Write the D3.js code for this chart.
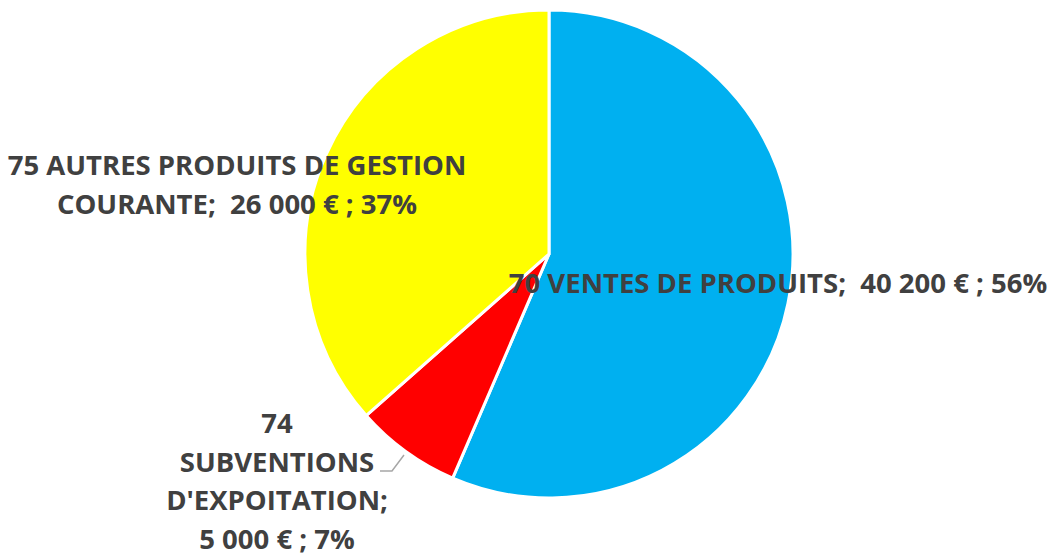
<!DOCTYPE html>
<html>
<head>
<meta charset="utf-8">
<script src="https://cdn.jsdelivr.net/npm/d3@7"></script>
<style>
  body { margin: 0; background: #fff; }
  svg text { font-family: "Open Sans", sans-serif; font-weight: bold; fill: #404040; white-space: pre; }
</style>
</head>
<body>
<div id="chart"></div>
<script>
const categories = ["70 VENTES DE PRODUITS", "74 SUBVENTIONS D'EXPOITATION", "75 AUTRES PRODUITS DE GESTION COURANTE"];
const values = [40200, 5000, 26000];
const valueLabels = ["40 200 €", "5 000 €", "26 000 €"];
const percents = ["56%", "7%", "37%"];
const colors = ["#00B0F0", "#FF0000", "#FFFF00"];

// label text split in lines, as the original shows them
const labelLines = [
    [`${categories[0]};  ${valueLabels[0]} ; ${percents[0]}`],
    ["74", "SUBVENTIONS", "D'EXPOITATION;", `${valueLabels[1]} ; ${percents[1]}`],
    ["75 AUTRES PRODUITS DE GESTION", `COURANTE;  ${valueLabels[2]} ; ${percents[2]}`]
];

const width = 1057, height = 556;
const cx = 549, cy = 254, radius = 244;

const svg = d3.select("#chart")
    .append("svg")
    .attr("width", width)
    .attr("height", height);

const g = svg.append("g")
    .attr("transform", `translate(${cx}, ${cy})`);

const data = categories.map((c, i) => ({ name: c, value: values[i], color: colors[i] }));

const pie = d3.pie()
    .sort(null)
    .value(d => d.value);

const arc = d3.arc()
    .innerRadius(0)
    .outerRadius(radius);

const dataPie = pie(data);

g.selectAll("path")
    .data(dataPie)
    .enter()
    .append("path")
    .attr("d", arc)
    .attr("fill", d => d.data.color)
    .attr("stroke", "white")
    .style("stroke-width", "3px");

// label positions (centre of first line, relative to pie centre)
const labelPos = [
    { x: 229, y: 29 },
    { x: -272, y: 169 },
    { x: -312, y: -89 }
];
const lineHeight = 38.5;

const labels = svg.append("g")
    .attr("transform", `translate(${cx}, ${cy})`);

labelLines.forEach((lines, i) => {
    const t = labels.append("text")
        .attr("text-anchor", "middle")
        .style("font-size", "27.5px");
    lines.forEach((line, j) => {
        t.append("tspan")
            .attr("x", labelPos[i].x)
            .attr("y", labelPos[i].y + j * lineHeight + 10)
            .text(line);
    });
});

// leader line for the small slice
labels.append("polyline")
    .attr("points", [[-169, 217], [-157, 217], [-145, 201]].map(p => p.join(",")).join(" "))
    .attr("fill", "none")
    .attr("stroke", "#A6A6A6")
    .attr("stroke-width", 1.5);
</script>
</body>
</html>
